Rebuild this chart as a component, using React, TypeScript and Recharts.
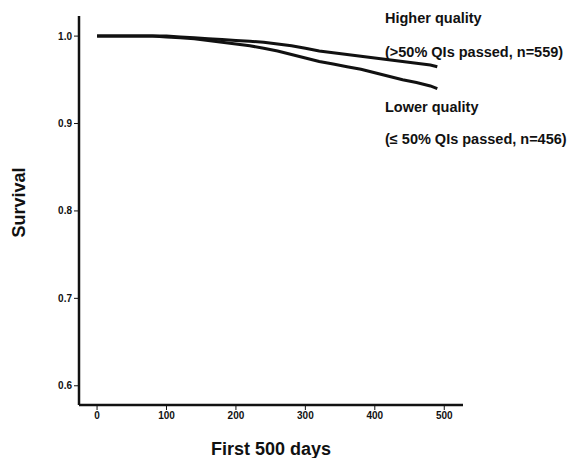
import { LineChart, Line, XAxis, YAxis, Label } from 'recharts'

const days = [0, 20, 40, 60, 80, 100, 120, 140, 160, 180, 200, 220, 240, 260, 280, 300, 320, 340, 360, 380, 400, 420, 440, 460, 480, 490]
const higher = [1, 1, 1, 1, 1, 1, 0.999, 0.998, 0.997, 0.996, 0.995, 0.994, 0.993, 0.991, 0.989, 0.986, 0.983, 0.981, 0.979, 0.977, 0.975, 0.973, 0.971, 0.969, 0.967, 0.965]
const lower = [1, 1, 1, 1, 1, 0.999, 0.998, 0.997, 0.995, 0.993, 0.991, 0.989, 0.986, 0.983, 0.979, 0.975, 0.971, 0.968, 0.965, 0.962, 0.958, 0.954, 0.95, 0.947, 0.943, 0.94]
const xTicks = [0, 100, 200, 300, 400, 500]
const yTicks = [0.6, 0.7, 0.8, 0.9, 1.0]

const data = days.map((d, i) => ({ day: d, higher: higher[i], lower: lower[i] }))

const ink = '#111'
const sans = '"Liberation Sans", Arial, sans-serif'
const tickFont = { fill: ink, fontSize: 10, fontWeight: 700, fontFamily: '"Liberation Sans Narrow", "Arial Narrow", "Liberation Sans", sans-serif' }
const noteStyle: React.CSSProperties = {
  position: 'absolute', left: 385, fontFamily: sans,
  fontWeight: 700, fontSize: 14.5, color: ink, whiteSpace: 'nowrap', lineHeight: '15px',
}

export default function App() {
  return (
    <div style={{ position: 'absolute', left: 0, top: 0, width: 577, height: 458, background: '#fff' }}>
      <LineChart width={577} height={458} data={data} margin={{ top: 16, right: 114, bottom: 23, left: 39 }}>
        <XAxis
          dataKey="day"
          type="number"
          domain={[-26, 527]}
          ticks={xTicks}
          allowDataOverflow
          tick={tickFont}
          stroke={ink}
          axisLine={{ stroke: ink, strokeWidth: 2.5 }}
          tickLine={{ stroke: ink, strokeWidth: 1 }}
          tickSize={5}
          height={30}
        >
          <Label value="First 500 days" position="insideBottom" offset={-20} style={{ fill: ink, fontSize: 18, fontWeight: 700, fontFamily: sans }} />
        </XAxis>
        <YAxis
          type="number"
          domain={[0.578, 1.023]}
          ticks={yTicks}
          allowDataOverflow
          tickFormatter={(v: number) => v.toFixed(1)}
          tick={tickFont}
          stroke={ink}
          axisLine={{ stroke: ink, strokeWidth: 2.5 }}
          tickLine={{ stroke: ink, strokeWidth: 1 }}
          tickSize={5}
          width={40}
        >
          <Label value="Survival" angle={-90} position="insideLeft" offset={-20} dy={-8} style={{ textAnchor: 'middle', fill: ink, fontSize: 18, fontWeight: 700, fontFamily: sans }} />
        </YAxis>
        <Line type="linear" dataKey="higher" stroke={ink} strokeWidth={3} dot={false} isAnimationActive={false} />
        <Line type="linear" dataKey="lower" stroke={ink} strokeWidth={3} dot={false} isAnimationActive={false} />
      </LineChart>
      <div style={{ ...noteStyle, top: 11 }}>Higher quality</div>
      <div style={{ ...noteStyle, top: 45 }}>(&gt;50% QIs passed, n=559)</div>
      <div style={{ ...noteStyle, top: 100 }}>Lower quality</div>
      <div style={{ ...noteStyle, top: 132 }}>(≤ 50% QIs passed, n=456)</div>
    </div>
  )
}
